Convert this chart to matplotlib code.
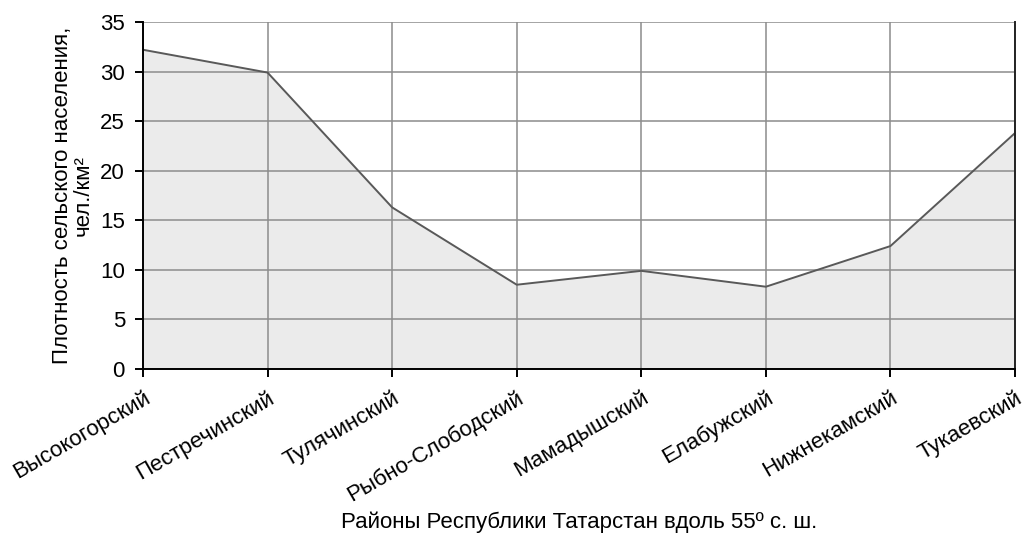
import matplotlib
matplotlib.use("Agg")
import matplotlib.pyplot as plt
import matplotlib.transforms as mtransforms

districts = ["Высокогорский", "Пестречинский", "Тулячинский", "Рыбно-Слободский",
             "Мамадышский", "Елабужский", "Нижнекамский", "Тукаевский"]
density = [32.2, 29.9, 16.3, 8.5, 9.9, 8.3, 12.4, 23.8]
yticks = [0, 5, 10, 15, 20, 25, 30, 35]

plt.rcParams['font.family'] = ['Liberation Sans', 'DejaVu Sans']

fig = plt.figure(figsize=(10.24, 5.42), dpi=100)
ax = fig.add_axes([143/1024, 1 - 369/542, (1015-143)/1024, (369-22)/542])

x = list(range(len(districts)))
ax.fill_between(x, density, 0, color="#ebebeb", zorder=1)
ax.plot(x, density, color="#595959", lw=1.4, zorder=3)

ax.set_xlim(0, len(districts) - 1)
ax.set_ylim(0, 35)
ax.set_yticks(yticks)
ax.set_xticks(x)
ax.set_xticklabels(districts, rotation=30, ha="right", rotation_mode="anchor",
                   fontsize=16)
# shift the rotated labels a little to the right, like the original
offset = mtransforms.ScaledTranslation(4/100, 0, fig.dpi_scale_trans)
for lab in ax.get_xticklabels():
    lab.set_transform(lab.get_transform() + offset)

ax.tick_params(axis="y", labelsize=16, direction="out", length=6, width=1.4, pad=7)
ax.tick_params(axis="x", direction="out", length=6, width=1.4, pad=7)

ax.grid(True, color="#8c8c8c", lw=1.1, zorder=2)
ax.spines["top"].set_visible(False)
ax.spines["right"].set_color("#222222")
for s in ["left", "bottom", "right"]:
    ax.spines[s].set_linewidth(1.4)
    ax.spines[s].set_zorder(4)

ax.set_ylabel("Плотность сельского населения,\nчел./км²", fontsize=16,
              linespacing=0.95, labelpad=5)
fig.text(579/1024, 1 - 528/542, "Районы Республики Татарстан вдоль 55º с. ш.",
         fontsize=16, ha="center", va="baseline")

fig.savefig("out.png", dpi=100)
